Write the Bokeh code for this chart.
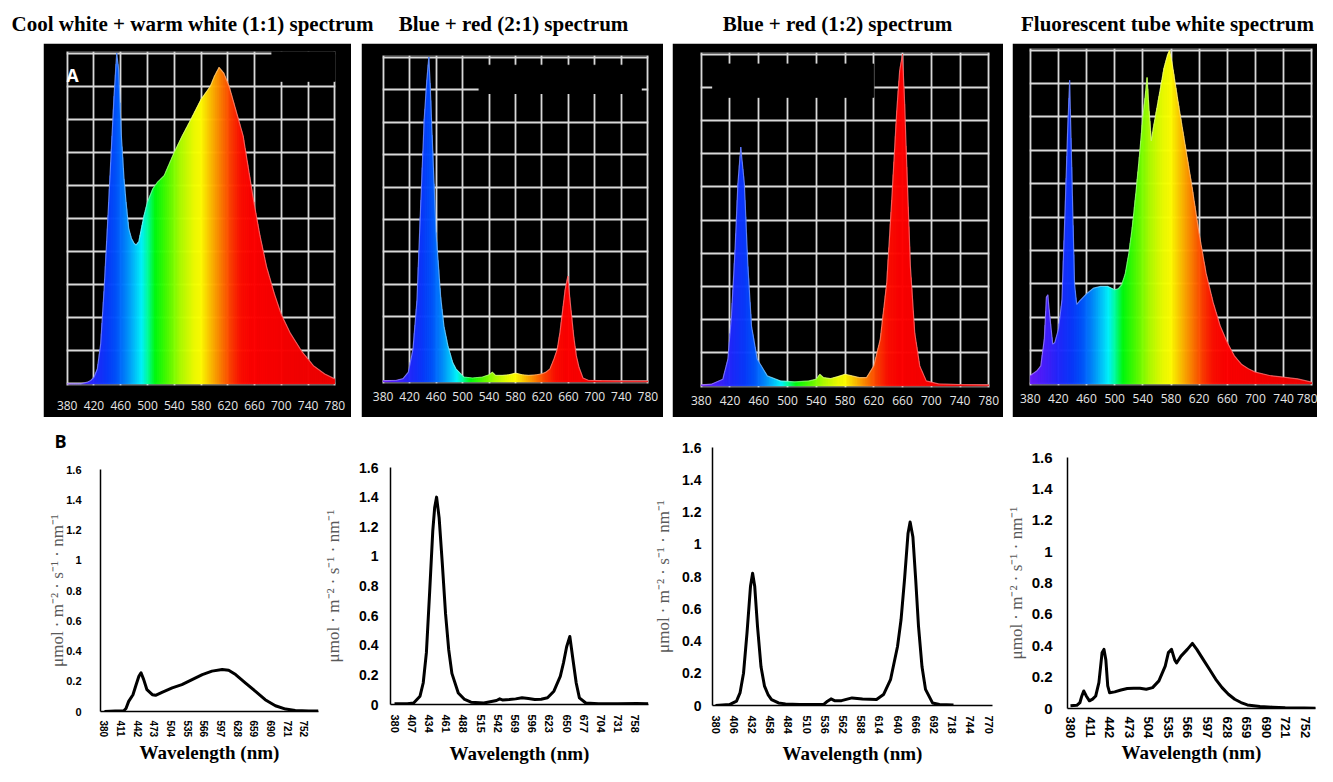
import numpy as np
from bokeh.plotting import figure
from bokeh.layouts import row, column
from bokeh.models import Range1d, FixedTicker, Grid, Spacer, ColumnDataSource
from bokeh.embed import file_html
from bokeh.resources import INLINE
from bokeh.core.properties import value

# ------------------------------------------------------------------ data
titles = ["Cool white + warm white (1:1) spectrum",
          "Blue + red (2:1) spectrum",
          "Blue + red (1:2) spectrum",
          "Fluorescent tube white spectrum"]
panel_letters = ["A", "B"]

# spectrometer screens (relative intensity, 1 = screen maximum)
a_ticks = [380, 420, 460, 500, 540, 580, 620, 660, 700, 740, 780]
a_grid_y = [0, 0.1, 0.2, 0.3, 0.4, 0.5, 0.6, 0.7, 0.8, 0.9, 1.0]

a1_wl = [380, 400, 410, 415, 420, 425, 430, 435, 440, 445, 450, 454, 457, 461, 465, 468,
         472, 476, 480, 483, 487, 490, 495, 500, 508, 515, 525, 540, 552, 565, 580, 594,
         600, 607, 614, 622, 629, 643, 659, 668, 678, 690, 700, 713, 730, 748, 765, 780]
a1_val = [0.0, 0.0, 0.005, 0.01, 0.02, 0.045, 0.12, 0.28, 0.47, 0.67, 0.87, 1.0, 0.95, 0.75,
          0.62, 0.55, 0.47, 0.44, 0.425, 0.42, 0.43, 0.46, 0.51, 0.55, 0.59, 0.61, 0.63, 0.70,
          0.75, 0.80, 0.86, 0.90, 0.93, 0.957, 0.94, 0.90, 0.85, 0.75, 0.55, 0.45, 0.354,
          0.27, 0.21, 0.155, 0.10, 0.055, 0.03, 0.015]

a2_wl = [380, 400, 410, 418, 425, 431, 437, 442, 446, 449, 451, 454, 460, 467, 472, 478,
         485, 490, 502, 515, 530, 540, 545, 550, 560, 570, 580, 590, 600, 612, 620, 626,
         632, 638, 643, 647, 650, 655, 659, 662, 665, 668, 672, 676, 682, 690, 710, 740, 780]
a2_val = [0.004, 0.005, 0.01, 0.03, 0.10, 0.25, 0.56, 0.81, 0.93, 1.0, 0.92, 0.76, 0.46,
          0.26, 0.17, 0.11, 0.06, 0.04, 0.015, 0.012, 0.015, 0.022, 0.03, 0.02, 0.02, 0.022,
          0.027, 0.022, 0.02, 0.022, 0.025, 0.03, 0.04, 0.07, 0.10, 0.15, 0.20, 0.284, 0.325,
          0.26, 0.20, 0.14, 0.08, 0.045, 0.012, 0.005, 0.004, 0.003, 0.003]

a3_wl = [380, 394, 410, 417, 422, 427, 431, 435, 440, 445, 450, 458, 472, 490, 510, 530,
         540, 545, 550, 560, 570, 580, 590, 600, 610, 620, 629, 638, 645, 652, 656, 660,
         663, 666, 671, 677, 684, 693, 710, 740, 780]
a3_val = [0.003, 0.005, 0.02, 0.08, 0.21, 0.41, 0.61, 0.72, 0.61, 0.36, 0.18, 0.08, 0.03,
          0.015, 0.012, 0.015, 0.02, 0.035, 0.025, 0.022, 0.028, 0.035, 0.03, 0.025, 0.025,
          0.06, 0.14, 0.31, 0.56, 0.83, 0.95, 1.0, 0.85, 0.66, 0.36, 0.16, 0.06, 0.015,
          0.006, 0.004, 0.003]

a4_wl = [380, 390, 395, 400, 403, 405, 408, 412, 415, 420, 425, 430, 433, 436, 439, 443,
         446, 450, 460, 470, 480, 490, 500, 505, 510, 515, 520, 525, 530, 535, 540, 543,
         546, 549, 552, 555, 560, 565, 570, 575, 578, 582, 590, 600, 610, 620, 630, 640,
         650, 660, 670, 680, 690, 700, 720, 740, 760, 780]
a4_val = [0.025, 0.04, 0.054, 0.134, 0.26, 0.267, 0.20, 0.119, 0.124, 0.163, 0.25, 0.55,
          0.75, 0.91, 0.65, 0.30, 0.238, 0.248, 0.27, 0.287, 0.292, 0.292, 0.282, 0.285,
          0.297, 0.33, 0.39, 0.47, 0.57, 0.68, 0.80, 0.856, 0.918, 0.817, 0.728, 0.768,
          0.827, 0.886, 0.946, 0.985, 1.0, 0.955, 0.846, 0.717, 0.589, 0.45, 0.33, 0.243,
          0.173, 0.124, 0.084, 0.059, 0.045, 0.035, 0.025, 0.02, 0.015, 0.005]

# photon flux spectra (umol m-2 s-1 nm-1)
b_yticks = [0, 0.2, 0.4, 0.6, 0.8, 1, 1.2, 1.4, 1.6]
b_ylabels = ["0", "0.2", "0.4", "0.6", "0.8", "1", "1.2", "1.4", "1.6"]
b1_ticks = [380, 411, 442, 473, 504, 535, 566, 597, 628, 659, 690, 721, 752]
b2_ticks = [380, 407, 434, 461, 488, 515, 542, 569, 596, 623, 650, 677, 704, 731, 758]
b3_ticks = [380, 406, 432, 458, 484, 510, 536, 562, 588, 614, 640, 666, 692, 718, 744, 770]
b4_ticks = [380, 411, 442, 473, 504, 535, 566, 597, 628, 659, 690, 721, 752]

b1_wl = [380, 400, 416, 420, 425, 433, 439, 444, 448, 453, 459, 469, 475, 487, 506, 524,
         543, 562, 580, 599, 611, 624, 642, 661, 679, 698, 717, 735, 760, 778]
b1_val = [0.0, 0.003, 0.005, 0.02, 0.067, 0.111, 0.178, 0.233, 0.256, 0.211, 0.144, 0.111,
          0.107, 0.127, 0.156, 0.178, 0.211, 0.244, 0.267, 0.278, 0.273, 0.244, 0.189,
          0.133, 0.078, 0.038, 0.016, 0.007, 0.004, 0.003]

b2_wl = [380, 400, 410, 420, 425, 430, 435, 440, 443, 446, 450, 455, 460, 465, 470, 480,
         490, 500, 520, 540, 545, 550, 560, 570, 580, 590, 600, 610, 620, 630, 640, 645,
         650, 655, 660, 665, 670, 680, 700, 730, 760, 778]
b2_val = [0.005, 0.005, 0.01, 0.056, 0.145, 0.35, 0.75, 1.17, 1.33, 1.40, 1.26, 0.95,
          0.615, 0.37, 0.21, 0.078, 0.034, 0.016, 0.01, 0.027, 0.038, 0.03, 0.033, 0.038,
          0.045, 0.04, 0.034, 0.036, 0.045, 0.09, 0.19, 0.28, 0.39, 0.459, 0.30, 0.145,
          0.045, 0.01, 0.005, 0.005, 0.006, 0.005]

b3_wl = [380, 400, 410, 415, 420, 425, 430, 433, 436, 440, 445, 450, 455, 460, 470, 480,
         500, 520, 535, 540, 545, 550, 560, 575, 590, 610, 620, 630, 640, 645, 650, 655,
         658, 662, 666, 670, 675, 680, 690, 700, 720]
b3_val = [0.0, 0.006, 0.027, 0.078, 0.2, 0.45, 0.74, 0.82, 0.74, 0.49, 0.24, 0.12, 0.068,
          0.037, 0.016, 0.01, 0.006, 0.006, 0.008, 0.027, 0.041, 0.03, 0.03, 0.047, 0.04,
          0.037, 0.068, 0.16, 0.366, 0.53, 0.78, 1.066, 1.138, 1.045, 0.78, 0.49, 0.24,
          0.1, 0.016, 0.006, 0.003]

b4_wl = [380, 390, 395, 398, 401, 405, 410, 415, 420, 425, 430, 433, 436, 439, 442, 450,
         460, 470, 480, 490, 500, 510, 520, 530, 535, 540, 545, 548, 555, 565, 573, 580,
         590, 600, 610, 620, 630, 640, 650, 660, 680, 700, 720, 750, 772]
b4_val = [0.017, 0.02, 0.038, 0.08, 0.112, 0.08, 0.049, 0.06, 0.08, 0.165, 0.355, 0.377,
          0.31, 0.144, 0.10, 0.106, 0.118, 0.127, 0.129, 0.129, 0.123, 0.133, 0.176, 0.27,
          0.356, 0.377, 0.31, 0.29, 0.334, 0.377, 0.415, 0.377, 0.313, 0.25, 0.186, 0.133,
          0.091, 0.059, 0.038, 0.023, 0.013, 0.008, 0.004, 0.003, 0.002]

# ------------------------------------------------------------------ styling
color_wl = [380, 400, 420, 440, 455, 470, 482, 492, 502, 512, 530, 550, 570, 580, 595,
            610, 625, 640, 660, 780]
color_hex = ["#6a1cff", "#4a20ff", "#2428ff", "#0a3aff", "#0058ff", "#0090ff", "#00c8ff",
             "#00f8ff", "#00ff90", "#00ff10", "#50ff00", "#b0ff00", "#f0ff00", "#ffff00",
             "#ffc000", "#ff8000", "#ff4000", "#ff1000", "#ff0000", "#f00000"]
GRID = "#d9d9d9"
SERIF = "Liberation Serif"
SANS = "Liberation Sans"


def _rgb(h):
    return [int(h[i:i + 2], 16) for i in (1, 3, 5)]


_rgbs = np.array([_rgb(c) for c in color_hex], dtype=float)


def wl_color(w):
    r, g, b = (int(round(np.interp(w, color_wl, _rgbs[:, k]))) for k in range(3))
    return "#%02x%02x%02x" % (r, g, b)


def colour_bands(wl, val, step=1.0):
    """Cut the area under the measured polyline into thin bands so each can
    carry its own spectral colour; the outline stays the measured polyline."""
    xs, ys, cs = [], [], []
    for i in range(len(wl) - 1):
        x0, x1, y0, y1 = wl[i], wl[i + 1], val[i], val[i + 1]
        n = max(1, int(np.ceil((x1 - x0) / step)))
        for k in range(n):
            t0, t1 = k / n, (k + 1) / n
            xa, xb = x0 + (x1 - x0) * t0, x0 + (x1 - x0) * t1
            ya, yb = y0 + (y1 - y0) * t0, y0 + (y1 - y0) * t1
            xs.append([xa, xb, xb, xa])
            ys.append([0, 0, yb, ya])
            cs.append(wl_color(0.5 * (xa + xb)))
    return xs, ys, cs


def top_panel(wl, val, width, borders, label_std, redact, letter=None):
    bl, br, bt, bb = borders
    p = figure(width=width, height=374, x_range=Range1d(379, 781),
               y_range=Range1d(-0.005, 1.005), output_backend="svg",
               toolbar_location=None, y_axis_location=None, frame_align=False,
               min_border_left=bl, min_border_right=br, min_border_top=bt,
               min_border_bottom=bb, background_fill_color="black",
               border_fill_color="black", outline_line_color=None)
    p.ygrid.visible = False          # automatic grid of the hidden y axis
    ax = p.xaxis[0]
    ax.ticker = FixedTicker(ticks=a_ticks)
    ax.axis_line_color = None
    ax.major_tick_line_color = None
    ax.minor_tick_line_color = None
    ax.major_label_text_color = "#e6e6e6"
    ax.major_label_text_font = "Open Sans"
    ax.major_label_text_font_size = "12px"
    ax.major_label_standoff = label_std
    p.xgrid.grid_line_color = GRID
    p.xgrid.grid_line_width = 1.8
    p.add_layout(Grid(dimension=1, ticker=FixedTicker(ticks=a_grid_y),
                      grid_line_color=GRID, grid_line_width=1.8))
    if redact:
        p.quad(left=[redact[0]], right=[redact[1]], bottom=[redact[2]], top=[redact[3]],
               fill_color="black", line_color="black")
    xs, ys, cs = colour_bands(wl, val)
    src = ColumnDataSource(dict(xs=xs, ys=ys, c=cs))
    p.patches(xs="xs", ys="ys", fill_color="c", line_color="c", line_width=0.6, source=src)
    p.line(wl, val, line_color="white", line_alpha=0.35, line_width=1.2)
    if letter:
        p.text(x=[380], y=[0.935], text=[letter], x_offset=-1, text_color="white",
               text_font=value("Open Sans"), text_font_style="bold",
               text_font_size=value("18px"), text_baseline="middle", text_align="left")
    return p


def bottom_panel(wl, val, ticks, width, height, borders, xr, fs_x, fs_y, std):
    bl, br, bt, bb = borders
    p = figure(width=width, height=height, x_range=Range1d(*xr), y_range=Range1d(0, 1.6),
               output_backend="svg", toolbar_location=None, frame_align=False,
               min_border_left=bl, min_border_right=br, min_border_top=bt,
               min_border_bottom=bb, background_fill_color="white",
               border_fill_color="white", outline_line_color=None)
    p.grid.visible = False
    p.line(wl, val, line_color="black", line_width=3, line_join="round")
    xa, ya = p.xaxis[0], p.yaxis[0]
    xa.ticker = FixedTicker(ticks=ticks)
    ya.ticker = FixedTicker(ticks=b_yticks)
    ya.major_label_overrides = dict(zip(b_yticks, b_ylabels))
    for ax in (xa, ya):
        ax.axis_line_color = "black"
        ax.axis_line_width = 1.5
        ax.major_tick_line_color = None
        ax.minor_tick_line_color = None
        ax.major_tick_out = 0
        ax.major_tick_in = 0
        ax.major_label_text_font = SANS
        ax.major_label_text_font_style = "bold"
        ax.major_label_text_color = "black"
    xa.major_label_text_font_size = "%dpx" % fs_x
    ya.major_label_text_font_size = "%dpx" % fs_y
    xa.major_label_orientation = "vertical"
    # std = (x tick-label standoff, y tick-label standoff, x title standoff, y title standoff)
    xa.major_label_standoff = std[0]
    ya.major_label_standoff = std[1]
    xa.axis_label = "Wavelength (nm)"
    xa.axis_label_text_font = SERIF
    xa.axis_label_text_font_style = "bold"
    xa.axis_label_text_font_size = "19px"
    xa.axis_label_text_color = "black"
    xa.axis_label_standoff = std[2]
    ya.axis_label = "\u03bcmol \u00b7 m\u207b\u00b2 \u00b7 s\u207b\u00b9 \u00b7 nm\u207b\u00b9"
    ya.axis_label_text_font = SERIF
    ya.axis_label_text_font_style = "normal"
    ya.axis_label_text_font_size = "17px"
    ya.axis_label_text_color = "#5a5a5a"
    ya.axis_label_standoff = std[3]
    return p


def blank(width, height):
    p = figure(width=width, height=height, x_range=Range1d(0, width),
               y_range=Range1d(0, height), output_backend="svg", toolbar_location=None,
               x_axis_location=None, y_axis_location=None, min_border=0,
               frame_align=False, outline_line_color=None,
               background_fill_color="white", border_fill_color="white")
    p.grid.visible = False
    return p


# ------------------------------------------------------------------ titles strip
title_x = [192, 513, 837, 1167]
tfig = blank(1317, 43)
tfig.text(x=title_x, y=[20] * 4, text=titles, text_align="center",
          text_baseline="middle", text_font=value(SERIF), text_font_style="bold",
          text_font_size=value("21px"), text_color="black")

# ------------------------------------------------------------------ panels
a1 = top_panel(a1_wl, a1_val, 308, (23, 16, 8, 32), 9, (686, 781, 0.915, 1.01),
               letter=panel_letters[0])
a2 = top_panel(a2_wl, a2_val, 302, (21, 15, 12, 34), 2, (525, 770, 0.888, 0.975))
a3 = top_panel(a3_wl, a3_val, 331, (28, 14, 9, 30), 2, (396, 620, 0.87, 0.97))
a4 = top_panel(a4_wl, a4_val, 305, (17, 5, 5, 32), 2, None)

bfig = blank(320, 40)
bfig.text(x=[60], y=[17], text=[panel_letters[1]], text_align="center",
          text_baseline="middle", text_font=value("Open Sans"), text_font_style="bold",
          text_font_size=value("18px"), text_color="black")
b1 = bottom_panel(b1_wl, b1_val, b1_ticks, 320, 309, (100, 2, 12, 54), (372.6, 778.2),
                  10, 11, (9, 19, 2, -4))
b2 = bottom_panel(b2_wl, b2_val, b2_ticks, 330, 349, (70, 2, 50, 61), (373.7, 778.4),
                  11, 14, (10, 12, 7, 13))
b3 = bottom_panel(b3_wl, b3_val, b3_ticks, 347, 349, (62, 5, 30, 60), (375.7, 775.7),
                  11, 14, (10, 11, 6, 6))
b4 = bottom_panel(b4_wl, b4_val, b4_ticks, 320, 349, (70, 2, 40, 57), (375.3, 767.9),
                  13, 15, (8, 15, 1, 3))

top = row(Spacer(width=43, height=374), a1, Spacer(width=10, height=374), a2,
          Spacer(width=9, height=374), a3, Spacer(width=9, height=374), a4, spacing=0)
bottom = row(column(bfig, b1, spacing=0), b2, b3, b4, spacing=0)
layout = column(tfig, top, bottom, spacing=0)

open("out.html", "w").write(file_html(layout, INLINE))
